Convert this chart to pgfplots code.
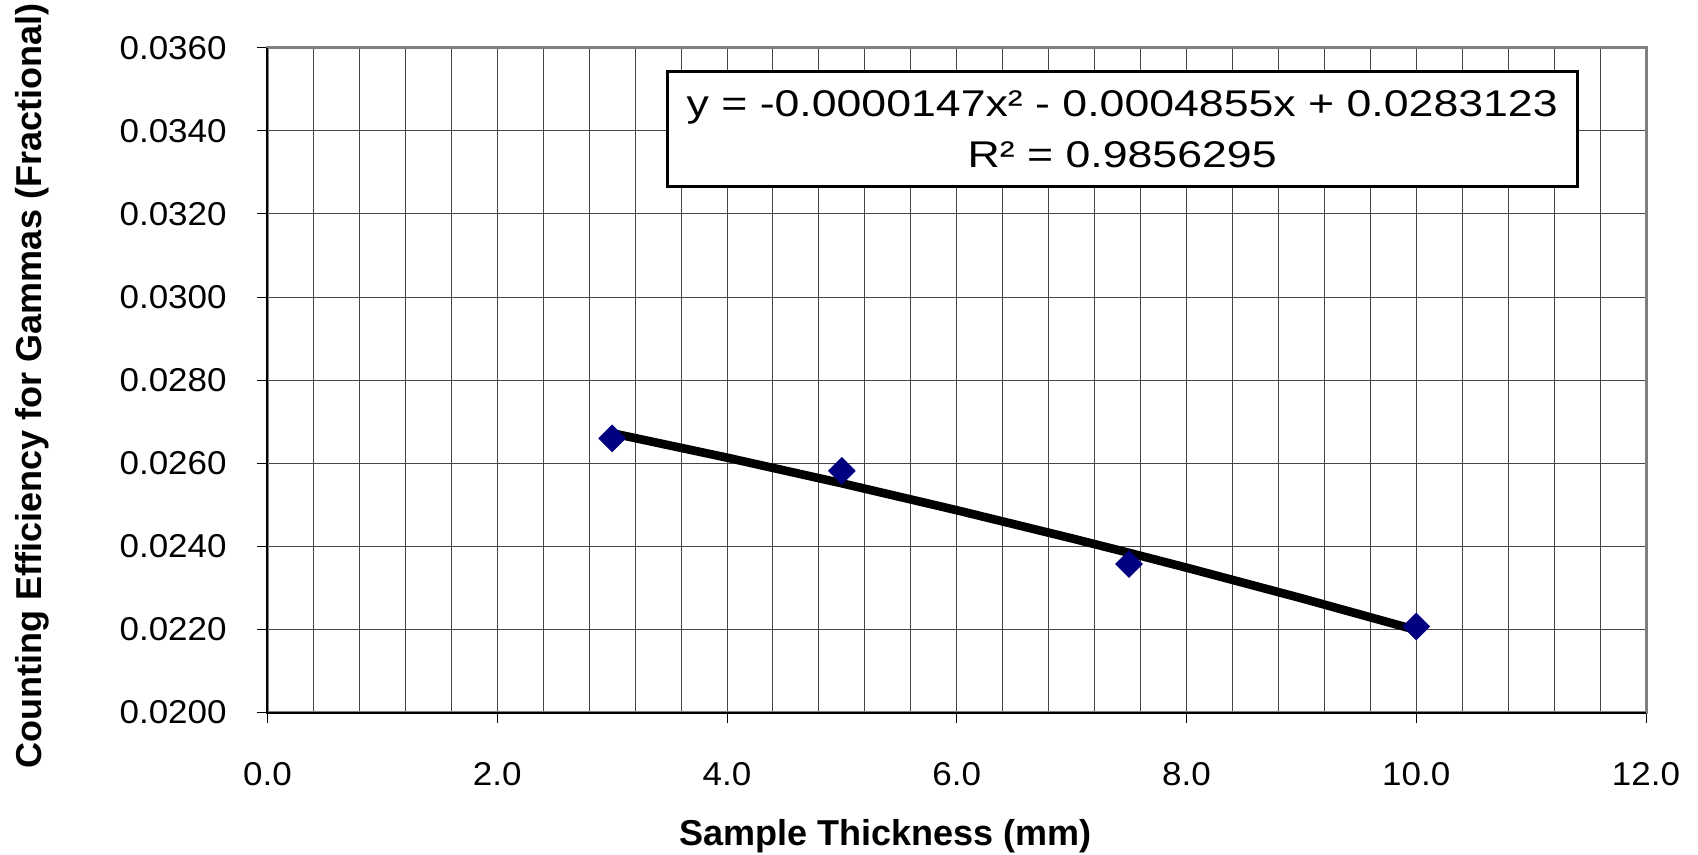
\documentclass[border=0pt]{standalone}
\usepackage{pgfplots}
\pgfplotsset{compat=1.18}
\usepackage{fontspec}
\setmainfont{Liberation Sans}
\newfontfamily\tickfont[FakeStretch=1.06]{Liberation Sans}
\newfontfamily\eqfont[FakeStretch=1.2]{Liberation Sans}
\definecolor{navy}{RGB}{0,0,128}
\definecolor{gridc}{RGB}{70,70,70}
\definecolor{framec}{RGB}{128,128,128}
\pgfplotstableread{
x y
3.0 0.026601
5.0 0.025816
7.5 0.023575
10.0 0.022072
}\measured
\pgfplotstableread{
x y
3.0 0.0267235
4.0 0.0261351
5.0 0.0255173
6.0 0.0248701
7.0 0.0241935
7.5 0.0238442
8.0 0.0234875
9.0 0.0227521
10.0 0.0219873
}\trend
\begin{document}
\begin{tikzpicture}
\useasboundingbox (-133.75pt,-71.2pt) rectangle (715.25pt,356.3pt);
\begin{axis}[
  scale only axis, width=689.25pt, height=332.45pt,
  xmin=0, xmax=12, ymin=0.020, ymax=0.036,
  xtick={0,2,4,6,8,10,12},
  xticklabels={0.0,2.0,4.0,6.0,8.0,10.0,12.0},
  ytick={0.020,0.022,0.024,0.026,0.028,0.030,0.032,0.034,0.036},
  yticklabels={0.0200,0.0220,0.0240,0.0260,0.0280,0.0300,0.0320,0.0340,0.0360},
  scaled y ticks=false, scaled x ticks=false,
  minor x tick num=4,
  xmajorgrids, xminorgrids, ymajorgrids,
  major grid style={gridc, line width=0.5pt},
  minor grid style={gridc, line width=0.5pt},
  tick pos=left, tick align=outside,
  major tick length=5pt, minor tick length=0pt,
  tick style={black, line width=0.5pt},
  axis line style={framec, line width=1.5pt},
  tick label style={font=\tickfont\fontsize{16.5}{19}\selectfont},
  xticklabel style={anchor=base, inner sep=0pt, yshift=-31.5pt},
  yticklabel style={anchor=east, inner sep=0pt, xshift=-15.25pt},
  xlabel={Sample Thickness (mm)},
  ylabel={Counting Efficiency for Gammas (Fractional)},
  xlabel style={font=\bfseries\fontsize{18}{21}\selectfont, at={(axis description cs:0.4484,-0.2006)}, anchor=base, inner sep=0pt},
  ylabel style={font=\bfseries\fontsize{18}{21}\selectfont, at={(axis description cs:-0.1638,0.4912)}, anchor=base, inner sep=0pt},
  clip=false,
]
\draw[black, line width=1pt] (rel axis cs:0,1) -- (rel axis cs:0,0) -- (rel axis cs:1,0);
\addplot[only marks, mark=square*, mark size=4.7pt, mark options={rotate=45, fill=navy, draw=navy}] table[x=x,y=y] {\measured};
\addplot[black, line width=4.3pt, line cap=round, line join=round, no marks] table[x=x,y=y] {\trend};
\node[draw=black, line width=1.5pt, fill=white, minimum width=454.85pt, minimum height=57.5pt, inner sep=0pt, align=center, font=\eqfont\fontsize{18.6}{25.5}\selectfont] at (axis cs:7.44,0.034038) {y = -0.0000147x² - 0.0004855x + 0.0283123\\R² = 0.9856295};
\end{axis}
\end{tikzpicture}
\end{document}
